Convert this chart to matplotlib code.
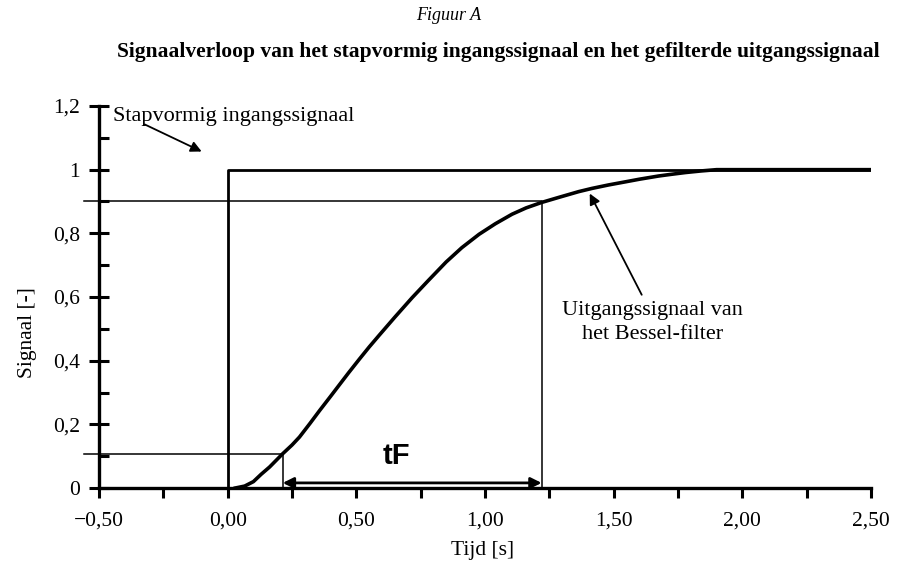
import matplotlib
matplotlib.use('Agg')
import matplotlib.pyplot as plt
import numpy as np

plt.rcParams['font.family'] = ['Liberation Serif', 'DejaVu Serif']

# stapvormig ingangssignaal
step_t = [-0.5, 0.0, 0.0, 2.5]
step_y = [0.0, 0.0, 1.0, 1.0]

out_t = [0.03, 0.066, 0.10, 0.13, 0.163, 0.213, 0.25, 0.279, 0.32, 0.357,
         0.40, 0.434, 0.47, 0.512, 0.55, 0.589, 0.65, 0.717, 0.78, 0.849,
         0.91, 0.977, 1.04, 1.105, 1.16, 1.22, 1.287, 1.364, 1.415, 1.48,
         1.547, 1.6, 1.674, 1.72, 1.779, 1.84, 1.9, 2.5]
out_y = [0.0, 0.006, 0.02, 0.043, 0.066, 0.107, 0.135, 0.16, 0.203, 0.243,
         0.288, 0.324, 0.362, 0.405, 0.443, 0.48, 0.537, 0.598, 0.652, 0.71,
         0.755, 0.797, 0.83, 0.86, 0.88, 0.897, 0.913, 0.931, 0.941, 0.952,
         0.962, 0.970, 0.980, 0.985, 0.991, 0.996, 1.0, 1.0]

lvl_lo, lvl_hi = 0.107, 0.9
t_lo, t_hi = 0.214, 1.22

xticks = [-0.5, 0.0, 0.5, 1.0, 1.5, 2.0, 2.5]
xlabels = ['\u22120,50', '0,00', '0,50', '1,00', '1,50', '2,00', '2,50']
yticks = [0, 0.2, 0.4, 0.6, 0.8, 1.0, 1.2]
ylabels = ['0', '0,2', '0,4', '0,6', '0,8', '1', '1,2']

fig = plt.figure(figsize=(8.98, 5.66), dpi=100)
ax = fig.add_axes([99/898, 1 - 488/566, 772/898, 382/566])
ax.set_xlim(-0.5, 2.5)
ax.set_ylim(0, 1.2)

ax.plot(step_t, step_y, color='black', lw=2.0, zorder=3)
ax.plot(out_t, out_y, color='black', lw=2.6, zorder=3, solid_joinstyle='round')

# 10% en 90% hulplijnen
ax.plot([-0.56, t_lo, t_lo], [lvl_lo, lvl_lo, 0], color='black', lw=1.1, clip_on=False)
ax.plot([-0.56, t_hi, t_hi], [lvl_hi, lvl_hi, 0], color='black', lw=1.1, clip_on=False)

ax.annotate('', xy=(t_lo, 0.016), xytext=(t_hi, 0.016),
            arrowprops=dict(arrowstyle='<|-|>', color='black', lw=2.0, mutation_scale=16,
                            shrinkA=0, shrinkB=0))
ax.text(0.655, 0.1, 'tF', family='Liberation Sans', fontweight='bold',
        fontsize=21, ha='center', va='center')

ax.text(-0.446, 1.168, 'Stapvormig ingangssignaal', fontsize=16, ha='left', va='center')
ax.annotate('', xy=(-0.101, 1.057), xytext=(-0.322, 1.142),
            arrowprops=dict(arrowstyle='-|>', color='black', lw=1.3, mutation_scale=16,
                            shrinkA=0, shrinkB=0))
ax.text(1.651, 0.52, 'Uitgangssignaal van\nhet Bessel-filter', fontsize=16,
        ha='center', va='center', linespacing=1.3)
ax.annotate('', xy=(1.407, 0.925), xytext=(1.609, 0.607),
            arrowprops=dict(arrowstyle='-|>', color='black', lw=1.3, mutation_scale=16,
                            shrinkA=0, shrinkB=0))

for s in ['top', 'right']:
    ax.spines[s].set_visible(False)
ax.spines['left'].set_linewidth(2.4)
ax.spines['bottom'].set_linewidth(2.4)

ax.set_xticks(xticks)
ax.set_xticklabels(xlabels, fontsize=15.5)
ax.set_xticks(np.arange(-0.25, 2.5, 0.5), minor=True)
ax.tick_params(axis='x', which='both', direction='out', length=7, width=2.2, pad=10)
ax.set_yticks(yticks)
ax.set_yticklabels(ylabels, fontsize=15.5)
ax.set_yticks(np.arange(0.1, 1.2, 0.2), minor=True)
ax.tick_params(axis='y', which='major', direction='inout', length=15, width=2.2, pad=6)
ax.tick_params(axis='y', which='minor', direction='in', length=7, width=2.2)

ax.set_xlabel('Tijd [s]', fontsize=15.5)
ax.xaxis.set_label_coords(0.497, -0.14)
ax.set_ylabel('Signaal [-]', fontsize=15.5)
ax.yaxis.set_label_coords(-0.080, 0.406)

fig.text(0.5, 1 - 15/566, 'Figuur A', fontsize=13, style='italic', ha='center', va='center')
fig.text(498/898, 1 - 52/566, 'Signaalverloop van het stapvormig ingangssignaal en het gefilterde uitgangssignaal',
         fontsize=15.5, fontweight='bold', ha='center', va='center')

fig.savefig('out.png', dpi=100)
